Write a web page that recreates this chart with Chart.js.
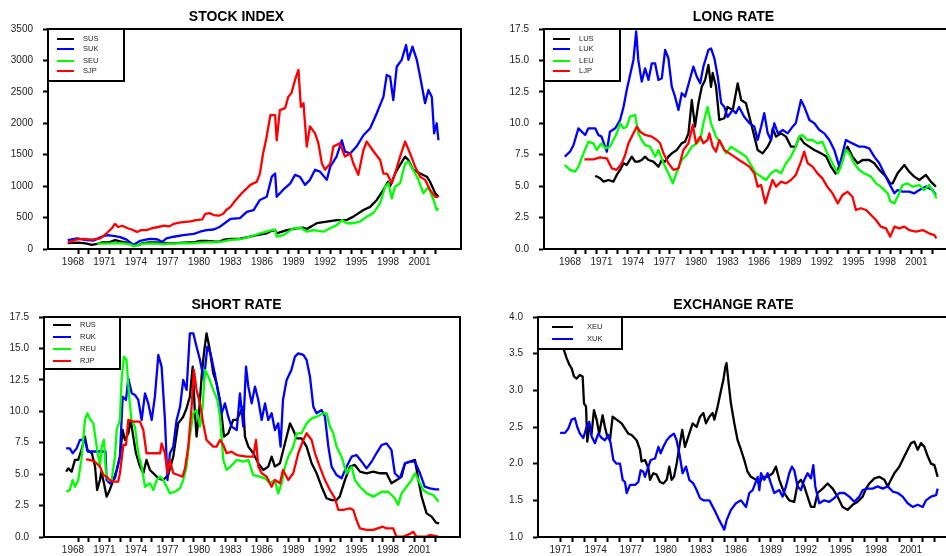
<!DOCTYPE html>
<html>
<head>
<meta charset="utf-8">
<title>Stock index, long rate, short rate, exchange rate</title>
<script src="https://cdn.jsdelivr.net/npm/chart.js@4.4.1/dist/chart.umd.min.js"></script>
<style>
  html, body { margin: 0; padding: 0; background: #fff; overflow: hidden; }
  body { width: 946px; height: 556px; position: relative; }
  .panel { position: absolute; width: 473px; height: 278px; }
  .panel canvas { display: block; }
</style>
</head>
<body>
<div class="panel" style="left:0;top:0"><canvas id="stock" width="473" height="278"></canvas></div>
<div class="panel" style="left:497px;top:0"><canvas id="long" width="473" height="278"></canvas></div>
<div class="panel" style="left:0;top:278px"><canvas id="short" width="473" height="278"></canvas></div>
<div class="panel" style="left:497px;top:278px"><canvas id="fx" width="473" height="278"></canvas></div>

<script>
// Series are [year, value] pairs.

const SUS = [[1968.0,95],[1969.0,100],[1969.7,90],[1970.3,65],[1970.8,80],[1971.3,105],[1972.0,110],[1972.5,140],[1973.0,120],[1973.6,100],[1974.2,70],[1974.7,60],[1975.1,90],[1975.8,105],[1976.5,105],[1977.0,95],[1977.7,90],[1978.3,95],[1979.0,100],[1979.6,105],[1980.1,110],[1980.6,130],[1981.2,130],[1981.9,120],[1982.4,115],[1982.9,150],[1983.5,160],[1984.4,165],[1985.05,185],[1986.0,220],[1986.95,250],[1987.43,290],[1987.75,300],[1987.9,250],[1988.86,300],[1989.81,330],[1990.4,340],[1990.76,320],[1991.2,360],[1991.7,410],[1992.67,435],[1993.62,460],[1994.57,460],[1995.2,515],[1996.16,620],[1996.8,670],[1997.43,780],[1998.06,940],[1998.5,1070],[1998.7,1000],[1999.17,1200],[1999.65,1340],[2000.13,1470],[2000.44,1415],[2000.9,1260],[2001.56,1200],[2002.2,1150],[2002.5,1070],[2003.0,885],[2003.3,830]];
const SUK = [[1968.0,140],[1968.9,170],[1969.8,140],[1970.5,135],[1971.1,185],[1971.7,220],[1972.35,210],[1973.0,190],[1973.6,150],[1974.25,65],[1974.9,130],[1975.8,160],[1976.5,155],[1977.0,115],[1977.4,170],[1978.1,195],[1979.0,220],[1980.0,240],[1980.6,275],[1981.2,300],[1981.9,310],[1982.5,355],[1983.1,430],[1983.5,480],[1984.4,490],[1985.05,590],[1985.7,620],[1986.3,780],[1986.95,830],[1987.43,1150],[1987.75,1200],[1987.9,830],[1988.5,940],[1989.2,1045],[1989.65,1180],[1990.1,1150],[1990.6,1020],[1991.07,1100],[1991.55,1260],[1992.03,1230],[1992.67,1100],[1993.0,1310],[1993.6,1470],[1994.1,1730],[1994.4,1550],[1994.9,1520],[1995.5,1630],[1996.16,1810],[1996.8,1920],[1997.43,2160],[1998.06,2420],[1998.38,2770],[1998.7,2740],[1999.0,2370],[1999.33,2900],[1999.8,3010],[2000.22,3245],[2000.44,3010],[2000.83,3220],[2001.24,3010],[2001.56,2740],[2002.03,2320],[2002.35,2530],[2002.67,2420],[2002.89,1840],[2003.14,2000],[2003.3,1730]];
const SEU = [[1970.8,90],[1971.5,85],[1972.2,90],[1972.8,95],[1973.4,90],[1974.0,70],[1974.3,45],[1974.8,70],[1975.3,85],[1976.0,90],[1976.6,85],[1977.2,75],[1977.8,85],[1978.5,90],[1979.2,95],[1979.8,90],[1980.4,100],[1981.0,105],[1981.6,110],[1982.2,105],[1982.8,120],[1983.46,145],[1984.41,155],[1985.37,195],[1986.32,250],[1987.43,300],[1987.75,310],[1987.9,195],[1988.54,220],[1989.5,330],[1990.29,330],[1990.76,275],[1991.4,300],[1992.35,275],[1992.98,330],[1993.62,380],[1994.1,460],[1994.57,410],[1995.2,410],[1995.84,435],[1996.48,515],[1997.1,570],[1997.75,725],[1998.22,990],[1998.54,1045],[1998.86,805],[1999.17,990],[1999.65,1045],[2000.13,1360],[2000.44,1390],[2000.9,1260],[2001.4,1100],[2001.87,885],[2002.35,990],[2002.83,780],[2003.14,620],[2003.3,650]];
const SJP = [[1968.0,100],[1968.8,150],[1969.5,160],[1970.3,150],[1971.1,170],[1971.7,250],[1972.2,330],[1972.5,400],[1972.8,350],[1973.2,370],[1973.7,330],[1974.1,310],[1974.6,270],[1975.0,300],[1975.5,300],[1976.0,330],[1976.6,350],[1977.2,370],[1977.7,360],[1978.1,400],[1978.6,420],[1979.2,430],[1979.7,440],[1980.2,460],[1980.8,470],[1981.1,560],[1981.5,570],[1981.9,540],[1982.4,530],[1982.8,560],[1983.1,620],[1983.5,670],[1984.0,780],[1984.7,910],[1985.4,1020],[1986.0,1070],[1986.3,1200],[1986.6,1520],[1986.9,1750],[1987.3,2130],[1987.75,2130],[1987.9,1730],[1988.2,2210],[1988.7,2240],[1989.0,2420],[1989.3,2480],[1989.65,2690],[1989.97,2850],[1990.2,2260],[1990.45,2320],[1990.76,1630],[1991.07,1950],[1991.55,1840],[1991.87,1680],[1992.2,1360],[1992.5,1260],[1993.0,1360],[1993.3,1630],[1993.9,1680],[1994.4,1470],[1994.9,1520],[1995.2,1360],[1995.67,1180],[1996.16,1575],[1996.48,1710],[1996.8,1630],[1997.27,1520],[1997.75,1415],[1998.06,1200],[1998.4,1200],[1998.86,1045],[1999.17,1200],[1999.65,1470],[2000.13,1710],[2000.6,1520],[2001.08,1310],[2001.56,1150],[2002.03,1100],[2002.5,940],[2003.0,830],[2003.3,830]];

const LUS = [[1970.9,5.83],[1971.37,5.62],[1971.7,5.36],[1972.16,5.49],[1972.63,5.36],[1972.95,5.89],[1973.27,6.29],[1973.6,6.82],[1973.9,6.68],[1974.38,7.35],[1974.7,6.95],[1975.0,6.95],[1975.33,7.08],[1975.65,7.35],[1975.97,7.08],[1976.44,6.95],[1976.92,6.55],[1977.24,7.08],[1977.56,6.95],[1977.87,7.35],[1978.19,7.61],[1978.67,7.88],[1979.14,8.41],[1979.46,8.54],[1979.78,9.2],[1980.1,11.85],[1980.4,9.73],[1980.73,11.6],[1981.05,12.9],[1981.37,13.45],[1981.68,14.64],[1981.93,12.9],[1982.09,14.0],[1982.41,12.9],[1982.72,10.26],[1983.2,10.4],[1983.5,11.3],[1984.0,11.06],[1984.47,13.18],[1984.8,11.85],[1985.26,11.6],[1985.74,10.0],[1986.06,8.94],[1986.37,7.88],[1986.85,7.61],[1987.33,8.14],[1987.64,8.67],[1987.8,9.6],[1988.12,8.94],[1988.6,9.2],[1989.07,8.94],[1989.55,8.14],[1990.0,8.14],[1990.34,8.94],[1990.81,8.4],[1991.3,8.14],[1991.77,7.88],[1992.4,7.61],[1992.9,7.35],[1993.36,6.55],[1993.8,6.0],[1994.0,6.29],[1994.46,7.35],[1994.94,8.14],[1995.4,7.35],[1995.9,6.82],[1996.37,7.08],[1997.0,7.08],[1997.48,6.82],[1997.96,6.29],[1998.6,5.76],[1999.0,5.22],[1999.23,5.22],[1999.7,6.02],[2000.34,6.68],[2000.8,6.15],[2001.29,5.76],[2001.77,5.49],[2002.4,5.89],[2002.87,5.36],[2003.35,4.96]];
const LUK = [[1968.0,7.35],[1968.5,7.74],[1968.83,8.27],[1969.3,9.6],[1969.94,9.07],[1970.25,9.6],[1970.9,9.6],[1971.2,9.07],[1971.5,8.94],[1972.0,7.74],[1972.3,9.33],[1972.8,9.6],[1973.27,10.26],[1973.6,11.32],[1973.9,12.65],[1974.22,13.84],[1974.54,15.04],[1974.8,17.3],[1975.0,15.04],[1975.33,13.31],[1975.65,14.37],[1975.97,13.45],[1976.29,14.77],[1976.6,14.77],[1976.92,13.45],[1977.24,13.58],[1977.56,15.83],[1977.87,15.17],[1978.19,12.92],[1978.5,12.12],[1978.83,11.06],[1979.14,12.39],[1979.46,12.12],[1979.94,13.58],[1980.25,14.51],[1980.57,13.71],[1980.9,13.18],[1981.2,14.51],[1981.68,15.83],[1981.93,15.96],[1982.25,15.17],[1982.57,13.71],[1982.9,11.6],[1983.2,11.3],[1983.5,10.5],[1984.0,11.06],[1984.3,10.8],[1984.6,11.3],[1985.1,10.5],[1985.6,10.0],[1986.06,9.73],[1986.37,8.67],[1986.7,9.73],[1987.0,10.8],[1987.33,9.2],[1987.64,8.67],[1987.96,10.0],[1988.3,9.2],[1988.76,9.47],[1989.23,9.2],[1989.7,9.73],[1990.0,10.0],[1990.5,11.85],[1990.81,11.32],[1991.3,10.26],[1991.77,10.0],[1992.25,9.47],[1992.72,9.2],[1993.2,8.67],[1993.67,7.88],[1994.15,6.55],[1994.46,7.61],[1994.78,8.67],[1995.4,8.4],[1996.05,8.14],[1996.5,8.14],[1997.0,8.0],[1997.48,7.35],[1997.96,6.82],[1998.43,6.02],[1998.9,5.22],[1999.4,4.43],[1999.7,4.69],[2000.18,4.56],[2000.8,4.56],[2001.29,4.43],[2001.77,4.69],[2002.4,4.96],[2003.04,4.69],[2003.35,4.3]];
const LEU = [[1968.0,6.68],[1968.5,6.29],[1968.98,6.15],[1969.3,6.55],[1969.78,7.61],[1970.25,8.54],[1970.73,8.4],[1971.05,7.88],[1971.5,8.4],[1971.84,8.0],[1972.3,8.14],[1972.63,8.67],[1972.95,9.2],[1973.27,10.0],[1973.6,9.6],[1973.9,9.73],[1974.22,10.53],[1974.7,10.66],[1975.0,9.2],[1975.33,8.67],[1975.65,8.27],[1976.13,8.14],[1976.6,7.35],[1976.92,7.88],[1977.4,6.82],[1977.87,6.02],[1978.29,5.22],[1978.67,6.15],[1979.14,7.08],[1979.62,7.48],[1980.1,8.14],[1980.57,8.4],[1980.9,8.67],[1981.2,10.0],[1981.6,11.3],[1981.93,10.0],[1982.4,8.94],[1982.88,8.4],[1983.36,7.61],[1983.83,8.14],[1984.3,7.88],[1984.8,7.61],[1985.26,7.35],[1985.74,6.68],[1986.2,6.02],[1986.7,5.76],[1987.17,5.49],[1987.64,6.02],[1988.12,6.29],[1988.6,6.02],[1989.07,6.82],[1989.55,7.35],[1990.0,8.14],[1990.34,8.94],[1990.65,9.07],[1991.1,8.67],[1991.6,8.67],[1992.07,8.4],[1992.54,8.54],[1993.0,7.61],[1993.5,6.82],[1994.0,6.02],[1994.3,6.55],[1994.78,7.88],[1995.1,7.61],[1995.56,6.82],[1996.05,6.29],[1996.5,6.02],[1997.17,5.76],[1997.64,5.22],[1998.1,4.96],[1998.76,4.43],[1999.0,3.8],[1999.4,3.63],[1999.7,4.16],[2000.18,5.09],[2000.65,5.22],[2001.13,4.96],[2001.77,5.09],[2002.24,4.69],[2002.7,5.09],[2003.2,4.43],[2003.4,4.03]];
const LJP = [[1969.87,7.13],[1970.73,7.13],[1971.37,7.29],[1972.0,7.21],[1972.48,6.42],[1972.95,6.29],[1973.43,6.82],[1973.75,7.48],[1974.06,8.41],[1974.54,9.2],[1974.86,9.73],[1975.17,9.33],[1975.65,9.07],[1976.29,8.94],[1976.76,8.67],[1977.08,8.41],[1977.4,7.61],[1977.87,6.82],[1978.35,6.29],[1978.83,6.42],[1979.3,7.88],[1979.78,8.41],[1980.19,9.87],[1980.5,8.41],[1980.9,8.94],[1981.2,8.41],[1981.6,8.67],[1981.77,9.2],[1982.09,8.14],[1982.4,7.74],[1982.72,8.67],[1983.2,7.88],[1983.67,7.61],[1984.14,7.35],[1984.6,7.08],[1985.1,6.82],[1985.58,6.55],[1986.06,6.02],[1986.37,4.96],[1986.7,5.09],[1987.1,3.63],[1987.48,4.69],[1987.8,5.49],[1988.12,4.96],[1988.6,5.36],[1989.07,5.22],[1989.55,5.49],[1990.0,5.89],[1990.5,6.95],[1990.81,7.74],[1991.13,6.82],[1991.6,6.55],[1992.07,6.02],[1992.54,5.62],[1993.0,4.96],[1993.5,4.43],[1994.0,3.63],[1994.46,4.3],[1994.94,4.56],[1995.4,4.16],[1995.73,3.1],[1996.2,3.24],[1996.7,3.1],[1997.17,2.7],[1997.64,2.31],[1998.1,1.78],[1998.6,1.64],[1999.0,0.98],[1999.4,1.78],[1999.86,1.64],[2000.34,1.78],[2000.8,1.51],[2001.45,1.38],[2002.08,1.51],[2002.7,1.25],[2003.2,1.11],[2003.4,0.85]];

const RUS = [[1967.85,5.2],[1968.05,5.46],[1968.37,5.2],[1968.69,6.13],[1969.0,6.13],[1969.3,6.92],[1969.64,7.98],[1969.87,6.92],[1970.3,6.66],[1970.6,5.6],[1970.8,3.74],[1971.07,4.53],[1971.2,5.2],[1971.45,4.27],[1971.7,3.21],[1972.0,3.74],[1972.34,4.53],[1972.66,5.33],[1972.97,6.39],[1973.23,8.51],[1973.45,7.72],[1973.77,8.25],[1974.0,9.31],[1974.24,7.98],[1974.5,6.66],[1974.88,5.6],[1975.2,5.07],[1975.5,6.13],[1975.83,5.33],[1976.15,5.07],[1976.63,4.67],[1977.1,4.53],[1977.57,4.93],[1978.05,6.39],[1978.52,9.04],[1979.0,9.57],[1979.32,10.24],[1979.63,11.16],[1979.9,13.55],[1980.1,10.1],[1980.27,7.98],[1980.5,9.84],[1980.75,12.75],[1980.97,14.61],[1981.22,16.2],[1981.48,15.14],[1981.86,13.02],[1982.18,12.22],[1982.5,10.9],[1982.88,7.98],[1983.29,8.25],[1983.76,9.31],[1984.1,9.31],[1984.4,9.84],[1984.72,10.37],[1984.88,7.98],[1985.2,7.19],[1985.67,6.66],[1986.15,5.86],[1986.63,5.33],[1987.1,5.6],[1987.42,6.39],[1987.73,5.6],[1988.21,5.86],[1988.69,7.45],[1989.17,9.04],[1989.48,8.51],[1989.8,7.85],[1990.27,7.85],[1990.75,7.19],[1991.23,5.86],[1991.7,5.07],[1992.18,4.0],[1992.65,3.08],[1993.13,2.94],[1993.6,2.94],[1993.9,3.21],[1994.4,4.53],[1994.88,5.6],[1995.35,5.73],[1995.83,5.2],[1996.46,5.07],[1997.1,5.2],[1997.73,5.07],[1998.36,5.07],[1998.83,4.27],[1999.33,4.53],[1999.8,4.8],[2000.12,5.86],[2000.6,5.99],[2001.07,6.13],[2001.4,4.53],[2001.7,3.21],[2002.18,1.88],[2002.66,1.62],[2003.07,1.14],[2003.38,1.09]];
const RUK = [[1967.85,7.05],[1968.2,7.05],[1968.47,6.66],[1968.85,7.05],[1969.17,7.72],[1969.64,7.72],[1969.9,6.8],[1971.6,6.8],[1971.7,4.53],[1972.0,4.27],[1972.5,4.67],[1972.97,6.39],[1973.23,11.16],[1973.55,10.9],[1973.77,12.62],[1974.1,11.43],[1974.4,11.3],[1974.72,10.9],[1975.04,9.31],[1975.36,11.43],[1975.67,10.63],[1976.0,9.31],[1976.3,11.16],[1976.63,14.48],[1976.94,13.55],[1977.26,9.31],[1977.5,4.53],[1977.73,6.66],[1978.05,7.19],[1978.37,9.31],[1978.7,10.37],[1979.0,12.49],[1979.32,11.7],[1979.63,16.2],[1979.96,16.2],[1980.27,15.14],[1980.6,14.08],[1980.97,12.49],[1981.3,15.14],[1981.6,14.61],[1982.0,13.02],[1982.34,11.43],[1982.66,9.84],[1982.97,10.63],[1983.29,9.57],[1983.6,8.78],[1984.1,8.51],[1984.4,11.43],[1984.72,8.78],[1984.98,13.55],[1985.2,11.96],[1985.52,10.63],[1985.83,11.96],[1986.15,10.9],[1986.47,9.31],[1986.79,10.63],[1987.1,9.31],[1987.42,9.84],[1987.73,8.51],[1988.05,9.04],[1988.27,7.19],[1988.5,10.9],[1988.85,12.49],[1989.3,13.29],[1989.64,14.35],[1989.96,14.61],[1990.44,14.48],[1990.75,14.08],[1991.07,12.75],[1991.39,10.37],[1991.7,9.84],[1992.18,10.1],[1992.5,9.57],[1992.82,7.19],[1993.13,5.6],[1993.6,4.93],[1994.08,4.67],[1994.56,5.6],[1995.04,6.39],[1995.5,6.52],[1996.0,5.99],[1996.46,5.46],[1996.94,5.99],[1997.4,6.66],[1997.9,7.32],[1998.36,7.45],[1998.83,6.92],[1999.15,5.07],[1999.63,4.67],[2000.12,5.86],[2000.6,5.99],[2001.07,5.99],[2001.55,5.07],[2002.0,4.0],[2002.5,3.87],[2003.0,3.79],[2003.38,3.79]];
const REU = [[1967.85,3.6],[1968.2,3.74],[1968.47,4.53],[1968.69,4.0],[1969.0,4.53],[1969.3,6.13],[1969.64,9.31],[1969.87,9.84],[1970.18,9.31],[1970.44,9.04],[1970.76,7.19],[1971.07,5.6],[1971.23,7.19],[1971.45,7.72],[1971.64,5.07],[1971.86,4.53],[1972.18,4.53],[1972.5,6.39],[1972.66,8.51],[1972.97,9.31],[1973.13,12.49],[1973.35,14.35],[1973.6,14.08],[1973.85,11.16],[1974.07,9.31],[1974.4,8.78],[1974.72,6.66],[1975.04,5.6],[1975.36,4.0],[1975.83,4.27],[1976.15,3.74],[1976.47,4.53],[1976.8,4.8],[1977.1,4.53],[1977.73,3.47],[1978.2,3.6],[1978.69,3.87],[1979.0,4.53],[1979.32,5.6],[1979.63,7.98],[1979.96,9.84],[1980.27,10.1],[1980.6,8.78],[1980.85,10.37],[1981.07,13.29],[1981.4,12.75],[1981.86,11.7],[1982.25,10.9],[1982.5,9.57],[1982.82,6.13],[1983.13,5.33],[1983.5,5.6],[1984.1,6.13],[1984.72,5.99],[1985.2,6.13],[1985.67,4.93],[1986.3,4.8],[1986.79,4.67],[1987.26,4.27],[1987.73,4.53],[1988.05,3.47],[1988.37,4.27],[1988.69,5.6],[1989.0,6.39],[1989.48,7.19],[1989.8,8.25],[1990.27,8.25],[1990.75,9.04],[1991.23,9.44],[1991.7,9.57],[1992.34,9.84],[1992.65,9.84],[1992.97,8.78],[1993.29,8.25],[1993.6,7.19],[1994.08,6.39],[1994.56,5.07],[1995.04,5.6],[1995.35,4.53],[1995.83,4.0],[1996.46,3.47],[1997.1,3.21],[1997.9,3.6],[1998.52,3.6],[1999.15,3.08],[1999.46,2.55],[1999.8,3.47],[2000.27,4.0],[2000.75,4.53],[2001.07,5.07],[2001.4,4.53],[2001.86,3.74],[2002.34,3.47],[2002.82,3.34],[2003.3,2.81]];
const RJP = [[1969.74,6.18],[1970.1,6.13],[1970.6,5.99],[1971.07,5.6],[1971.4,4.93],[1971.7,4.8],[1972.0,4.53],[1972.34,4.4],[1972.8,4.4],[1972.97,5.07],[1973.3,7.32],[1973.55,7.32],[1973.77,9.31],[1974.24,9.18],[1974.88,9.18],[1975.2,8.51],[1975.5,6.66],[1975.99,6.66],[1976.47,6.66],[1976.8,6.66],[1976.94,7.45],[1977.26,6.66],[1977.5,5.07],[1977.73,6.13],[1978.05,5.07],[1978.52,4.93],[1978.94,4.8],[1979.17,5.46],[1979.48,7.19],[1979.8,10.37],[1980.02,13.29],[1980.27,11.7],[1980.6,10.63],[1980.9,9.04],[1981.22,7.72],[1981.54,7.45],[1981.86,7.19],[1982.18,7.19],[1982.5,7.72],[1982.82,7.32],[1983.13,6.66],[1983.6,6.79],[1984.1,6.52],[1985.04,6.39],[1985.67,6.39],[1985.93,7.72],[1986.15,5.6],[1986.47,5.07],[1986.95,4.8],[1987.42,4.0],[1987.73,4.53],[1988.21,4.27],[1988.5,5.33],[1989.0,4.53],[1989.48,5.07],[1989.96,6.66],[1990.44,7.72],[1990.75,8.25],[1991.23,7.72],[1991.55,6.66],[1992.0,5.6],[1992.5,4.53],[1992.97,3.74],[1993.45,3.08],[1993.77,2.15],[1994.24,2.15],[1994.88,2.28],[1995.2,2.15],[1995.5,1.35],[1995.83,0.69],[1996.46,0.56],[1997.1,0.56],[1998.0,0.82],[1998.36,0.69],[1999.0,0.69],[1999.3,0.03],[1999.96,0.03],[2000.6,0.25],[2000.9,0.42],[2001.2,0.03],[2002.18,0.03],[2002.5,0.16],[2003.3,0.03]];

const XEU = [[1971.0,3.66],[1971.28,3.55],[1971.51,3.44],[1971.74,3.35],[1971.94,3.3],[1972.14,3.19],[1972.37,3.16],[1972.65,3.21],[1972.88,3.19],[1973.0,2.82],[1973.17,2.78],[1973.28,2.3],[1973.45,2.5],[1973.65,2.41],[1973.85,2.73],[1974.08,2.6],[1974.3,2.41],[1974.59,2.66],[1974.79,2.5],[1974.99,2.37],[1975.22,2.32],[1975.45,2.64],[1975.79,2.6],[1976.22,2.55],[1976.5,2.48],[1976.79,2.41],[1977.08,2.39],[1977.5,2.32],[1977.79,2.19],[1977.93,2.03],[1978.22,2.05],[1978.51,1.94],[1978.65,1.78],[1978.93,1.87],[1979.22,1.85],[1979.5,1.75],[1979.79,1.73],[1980.08,1.78],[1980.3,1.96],[1980.5,1.78],[1980.7,1.82],[1980.93,2.0],[1981.21,2.28],[1981.41,2.46],[1981.64,2.23],[1981.93,2.37],[1982.3,2.55],[1982.64,2.5],[1982.93,2.64],[1983.22,2.69],[1983.44,2.55],[1983.73,2.64],[1984.01,2.69],[1984.16,2.6],[1984.44,2.78],[1984.73,3.0],[1984.93,3.14],[1985.1,3.32],[1985.2,3.37],[1985.38,3.1],[1985.58,2.82],[1985.87,2.55],[1986.15,2.32],[1986.44,2.19],[1986.72,2.05],[1987.0,1.89],[1987.29,1.82],[1987.72,1.78],[1988.0,1.73],[1988.29,1.82],[1988.72,1.82],[1989.15,1.87],[1989.43,1.96],[1989.72,1.78],[1990.14,1.6],[1990.57,1.5],[1991.0,1.48],[1991.29,1.73],[1991.57,1.78],[1991.86,1.69],[1992.14,1.55],[1992.43,1.41],[1992.72,1.41],[1993.0,1.6],[1993.43,1.66],[1993.86,1.73],[1994.29,1.66],[1994.71,1.55],[1995.14,1.41],[1995.57,1.37],[1996.0,1.44],[1996.43,1.48],[1996.86,1.55],[1997.14,1.66],[1997.43,1.73],[1997.86,1.8],[1998.28,1.82],[1998.71,1.78],[1999.0,1.69],[1999.28,1.78],[1999.57,1.87],[2000.0,1.96],[2000.43,2.1],[2000.71,2.19],[2001.0,2.28],[2001.28,2.3],[2001.57,2.19],[2001.85,2.28],[2002.14,2.23],[2002.43,2.1],[2002.71,2.0],[2003.0,1.98],[2003.28,1.82]];
const XUK = [[1970.95,2.42],[1971.37,2.42],[1971.66,2.48],[1971.94,2.6],[1972.22,2.62],[1972.42,2.5],[1972.65,2.41],[1972.94,2.35],[1973.22,2.5],[1973.45,2.57],[1973.65,2.37],[1973.94,2.28],[1974.22,2.41],[1974.51,2.35],[1974.79,2.32],[1975.08,2.39],[1975.28,2.28],[1975.51,2.05],[1975.79,2.0],[1976.08,2.0],[1976.31,1.78],[1976.51,1.75],[1976.65,1.6],[1976.94,1.71],[1977.37,1.71],[1977.65,1.75],[1977.85,1.91],[1978.08,1.89],[1978.22,1.82],[1978.51,1.96],[1978.71,2.05],[1979.08,2.07],[1979.37,2.23],[1979.56,2.14],[1979.79,2.23],[1980.08,2.32],[1980.36,2.37],[1980.7,2.41],[1980.93,2.32],[1981.16,2.14],[1981.44,1.87],[1981.73,1.96],[1982.01,1.78],[1982.36,1.73],[1982.64,1.64],[1982.93,1.53],[1983.22,1.5],[1983.56,1.5],[1983.73,1.5],[1984.16,1.37],[1984.58,1.23],[1985.01,1.1],[1985.21,1.23],[1985.58,1.37],[1986.01,1.46],[1986.44,1.5],[1986.87,1.41],[1987.15,1.6],[1987.44,1.64],[1987.87,1.82],[1988.01,1.64],[1988.15,1.87],[1988.44,1.78],[1988.72,1.87],[1989.0,1.73],[1989.29,1.6],[1989.72,1.64],[1990.0,1.55],[1990.29,1.69],[1990.57,1.87],[1990.8,1.96],[1991.0,1.91],[1991.29,1.69],[1991.57,1.64],[1991.86,1.78],[1992.14,1.87],[1992.43,1.8],[1992.63,1.98],[1992.8,1.69],[1993.14,1.46],[1993.57,1.5],[1994.0,1.48],[1994.43,1.53],[1994.86,1.6],[1995.28,1.6],[1995.71,1.55],[1996.14,1.48],[1996.57,1.55],[1996.86,1.64],[1997.28,1.66],[1997.71,1.66],[1998.14,1.69],[1998.57,1.66],[1999.0,1.69],[1999.43,1.62],[1999.86,1.6],[2000.28,1.55],[2000.71,1.46],[2001.14,1.41],[2001.57,1.44],[2002.0,1.41],[2002.28,1.5],[2002.71,1.55],[2003.14,1.57],[2003.28,1.66]];

// Axis ticks and labels
const STOCK_TICKS = [0, 500, 1000, 1500, 2000, 2500, 3000, 3500];
const RATE_TICKS = [0, 2.5, 5, 7.5, 10, 12.5, 15, 17.5];
const FX_TICKS = [1.0, 1.5, 2.0, 2.5, 3.0, 3.5, 4.0];
const YEAR_LABELS = [1968, 1971, 1974, 1977, 1980, 1983, 1986, 1989, 1992, 1995, 1998, 2001];
const FX_YEAR_LABELS = [1971, 1974, 1977, 1980, 1983, 1986, 1989, 1992, 1995, 1998, 2001];

const FONT = 'Arial, "Liberation Sans", Helvetica, sans-serif';
const CANVAS_W = 473;
const CANVAS_H = 278;

function yearRange(from, to) {
    const out = [];
    for (let y = from; y <= to; y++) out.push(y);
    return out;
}

/**
 * Frame, title and boxed legend the way the original graphs draw them
 */
const panelFrame = {
    id: 'panelFrame',
    afterDatasetsDraw(chart) {
        const { ctx, chartArea: a } = chart;
        ctx.save();
        ctx.strokeStyle = '#000';
        ctx.lineWidth = 2;
        ctx.strokeRect(a.left, a.top, a.right - a.left, a.bottom - a.top);
        ctx.restore();
    },
    afterDraw(chart, args, opts) {
        const { ctx, chartArea: a } = chart;
        const lg = opts.legend;
        ctx.save();

        ctx.fillStyle = '#000';
        ctx.font = 'bold 14px ' + FONT;
        ctx.textAlign = 'center';
        ctx.textBaseline = 'middle';
        ctx.fillText(opts.title, 236.5, a.top - 11.5);

        ctx.fillStyle = '#fff';
        ctx.fillRect(a.left, a.top, lg.w, lg.h);
        ctx.strokeStyle = '#000';
        ctx.lineWidth = 2;
        ctx.strokeRect(a.left, a.top, lg.w, lg.h);

        ctx.font = '7.5px ' + FONT;
        ctx.textAlign = 'left';
        chart.data.datasets.forEach((ds, i) => {
            const y = a.top + lg.rows[i];
            ctx.strokeStyle = ds.borderColor;
            ctx.lineWidth = 2;
            ctx.beginPath();
            ctx.moveTo(a.left + lg.line[0], y);
            ctx.lineTo(a.left + lg.line[1], y);
            ctx.stroke();
            ctx.fillStyle = '#222';
            ctx.fillText(ds.label, a.left + lg.text, y);
        });
        ctx.restore();
    }
};

function makePanel(id, cfg) {
    const n = cfg.series.length;
    const area = cfg.area;
    const tickStyle = { drawOnChartArea: false, drawTicks: true, tickLength: 5, tickWidth: 2, tickColor: '#000' };
    const border = { display: true, color: '#000', width: 2 };

    return new Chart(document.getElementById(id), {
        type: 'line',
        data: {
            datasets: cfg.series.map((s, i) => ({
                label: s.label,
                data: s.points.map(([x, y]) => ({ x, y })),
                borderColor: s.color,
                backgroundColor: s.color,
                borderWidth: 2.3,
                borderJoinStyle: 'round',
                pointRadius: 0,
                tension: 0,
                fill: false,
                order: n - 1 - i
            }))
        },
        options: {
            responsive: false,
            animation: false,
            events: [],
            layout: {
                padding: { left: 0, top: area.top, right: CANVAS_W - area.right, bottom: 0 }
            },
            plugins: {
                legend: { display: false },
                tooltip: { enabled: false },
                title: { display: false },
                panelFrame: { title: cfg.title, legend: cfg.legend }
            },
            scales: {
                x: {
                    type: 'linear',
                    min: cfg.xMin,
                    max: cfg.xMax,
                    afterBuildTicks: (scale) => { scale.ticks = cfg.xTicks.map(v => ({ value: v })); },
                    afterFit: (scale) => { scale.height = CANVAS_H - area.bottom; },
                    ticks: {
                        autoSkip: false,
                        maxRotation: 0,
                        padding: 2,
                        labelOffset: cfg.labelOffset,
                        color: '#222',
                        font: { family: FONT, size: 10 },
                        callback: cfg.xLabel
                    },
                    grid: tickStyle,
                    border: border
                },
                y: {
                    type: 'linear',
                    min: cfg.yTicks[0],
                    max: cfg.yTicks[cfg.yTicks.length - 1],
                    afterBuildTicks: (scale) => { scale.ticks = cfg.yTicks.map(v => ({ value: v })); },
                    afterFit: (scale) => { scale.width = area.left; },
                    ticks: {
                        padding: 10,
                        color: '#222',
                        font: { family: FONT, size: 10 },
                        callback: cfg.yLabel
                    },
                    grid: tickStyle,
                    border: border
                }
            }
        },
        plugins: [panelFrame]
    });
}

// labels sit in the middle of each year, ticks on the year boundaries
const midYearLabel = (v) => (YEAR_LABELS.includes(v - 1) ? String(v - 1) : '');
const fxYearLabel = (v) => (FX_YEAR_LABELS.includes(v) ? String(v) : '');
const oneDecimal = (v) => Number(v).toFixed(1);

const BIG_LEGEND = { w: 76, h: 52, rows: [10, 20, 32, 42], line: [9, 26], text: 35 };

makePanel('stock', {
    title: 'STOCK INDEX',
    area: { left: 48, top: 29, right: 461, bottom: 249 },
    xMin: 1966.12, xMax: 2005.45,
    xTicks: yearRange(1969, 2003), labelOffset: -5.25, xLabel: midYearLabel,
    yTicks: STOCK_TICKS, yLabel: (v) => String(v),
    legend: BIG_LEGEND,
    series: [
        { label: 'SUS', color: '#000000', points: SUS },
        { label: 'SUK', color: '#0000ff', points: SUK },
        { label: 'SEU', color: '#00ff00', points: SEU },
        { label: 'SJP', color: '#ff0000', points: SJP }
    ]
});

makePanel('long', {
    title: 'LONG RATE',
    area: { left: 47, top: 29, right: 460, bottom: 249 },
    xMin: 1966.02, xMax: 2005.36,
    xTicks: yearRange(1969, 2003), labelOffset: -5.25, xLabel: midYearLabel,
    yTicks: RATE_TICKS, yLabel: oneDecimal,
    legend: BIG_LEGEND,
    series: [
        { label: 'LUS', color: '#000000', points: LUS },
        { label: 'LUK', color: '#0000ff', points: LUK },
        { label: 'LEU', color: '#00ff00', points: LEU },
        { label: 'LJP', color: '#ff0000', points: LJP }
    ]
});

makePanel('short', {
    title: 'SHORT RATE',
    area: { left: 44, top: 39, right: 460, bottom: 259 },
    xMin: 1965.74, xMax: 2005.36,
    xTicks: yearRange(1969, 2003), labelOffset: -5.25, xLabel: midYearLabel,
    yTicks: RATE_TICKS, yLabel: oneDecimal,
    legend: { w: 76, h: 52, rows: [8, 20, 32, 44], line: [9, 27], text: 36 },
    series: [
        { label: 'RUS', color: '#000000', points: RUS },
        { label: 'RUK', color: '#0000ff', points: RUK },
        { label: 'REU', color: '#00ff00', points: REU },
        { label: 'RJP', color: '#ff0000', points: RJP }
    ]
});

makePanel('fx', {
    title: 'EXCHANGE RATE',
    area: { left: 41, top: 39, right: 454, bottom: 259 },
    xMin: 1969.06, xMax: 2004.42,
    xTicks: yearRange(1971, 2003), labelOffset: 0, xLabel: fxYearLabel,
    yTicks: FX_TICKS, yLabel: oneDecimal,
    legend: { w: 84, h: 32, rows: [10, 22], line: [14, 35], text: 49 },
    series: [
        { label: 'XEU', color: '#000000', points: XEU },
        { label: 'XUK', color: '#0000ff', points: XUK }
    ]
});
</script>
</body>
</html>
